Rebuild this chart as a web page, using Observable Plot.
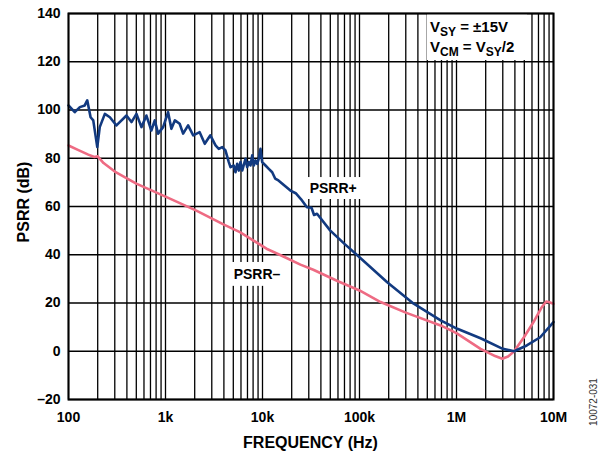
<!DOCTYPE html>
<html>
<head>
<meta charset="utf-8">
<script src="https://cdn.jsdelivr.net/npm/d3@7"></script>
<script src="https://cdn.jsdelivr.net/npm/@observablehq/plot@0.6"></script>
<style>
  html, body { margin: 0; padding: 0; background: #fff; }
  #chart { width: 600px; height: 455px; position: relative; }
</style>
</head>
<body>
<div id="chart"></div>
<script>
// ---------- data ----------
const plusFreq = [100, 116, 131, 147, 156, 169, 180, 198, 210, 237, 267, 312, 396, 446, 502, 565, 636, 715, 775, 839, 945, 1064, 1150, 1250, 1400, 1520, 1710, 1930, 2250, 2540, 2900, 3280, 3544, 3842, 4155, 4494, 4677, 5060, 5268, 5486, 5698, 5933, 6176, 6678, 6956, 7225, 7521, 7831, 8136, 8470, 8819, 9160, 9537, 9929, 10740, 11610, 12590, 13500, 14600, 19400, 22000, 25000, 28700, 32000, 34000, 36500, 50000, 70000, 100000, 193000, 362000, 686000, 1020000, 1770000, 3000000, 3930000, 5300000, 7300000, 10000000];
const plusDb   = [101.9, 99.1, 101.2, 101.9, 104, 97, 95.7, 84.6, 92.9, 98.4, 97, 93.6, 97.7, 95, 98.4, 92.9, 97.7, 91.5, 95.7, 90.2, 92.9, 99.1, 92.2, 95.7, 94.3, 90.2, 93.6, 89.5, 90.8, 86, 89.5, 85.3, 83.9, 84.6, 83.2, 78.4, 76.3, 77, 74.2, 77.7, 74.9, 78.4, 74.9, 79.8, 76.3, 78.4, 77, 81.2, 77, 79.1, 77.7, 79.8, 83.9, 78.4, 77, 75.6, 74.2, 71.6, 70.8, 66.6, 65.5, 63, 59.7, 59.5, 56.5, 57, 50, 44.5, 39, 28.6, 19.7, 12.8, 9.3, 5.4, 1.0, 0, 2.4, 5.8, 12.1];

const minusFreq = [100, 125, 160, 185, 200, 230, 300, 500, 1000, 2080, 4000, 5850, 8000, 11000, 16000, 24600, 33400, 60000, 100000, 165000, 300000, 686000, 1000000, 1770000, 2500000, 2970000, 3400000, 3930000, 5000000, 6200000, 7500000, 8400000, 8900000, 10000000];
const minusDb   = [85.3, 83.5, 81.5, 80.5, 80.8, 78, 74.5, 69.5, 64.1, 58.3, 52.5, 49.4, 46, 42.5, 39.5, 35.9, 33.8, 29, 25.2, 20.4, 16, 10.7, 7.5, 1.0, -2, -3.1, -2.2, 0, 6, 12, 18, 20.6, 20.4, 19.7];

const xTicks = [100, 1e3, 1e4, 1e5, 1e6, 1e7];
const xTickLabels = ["100", "1k", "10k", "100k", "1M", "10M"];
const yTicks = [-20, 0, 20, 40, 60, 80, 100, 120, 140];
const decades = [100, 1e3, 1e4, 1e5, 1e6];
const multipliers = [1, 2, 3, 4, 5, 6, 7, 8, 9];
const gridFreqs = decades.flatMap(d => multipliers.map(m => d * m)).concat([1e7]);

// label boxes (data units) and positions
const seriesLabels = [
  {text: "PSRR+", x: 53600, y: 67.5, x1: 28000, x2: 110000, y1: 62.9, y2: 72},
  {text: "PSRR\u2013", x: 8770, y: 31.8, x1: 4270, x2: 18100, y1: 26.9, y2: 36.8}
];
const condBox = {x1: 502000, x2: 5400000, y1: 120.5, y2: 140};

const plusData = plusFreq.map((f, i) => ({f, db: plusDb[i]}));
const minusData = minusFreq.map((f, i) => ({f, db: minusDb[i]}));
const tickLabelMap = new Map(xTicks.map((t, i) => [t, xTickLabels[i]]));

const BLUE = "#123a80";
const PINK = "#ee6b83";
const FONT = "'Liberation Sans', Arial, sans-serif";

const chart = Plot.plot({
  width: 600,
  height: 455,
  marginLeft: 68,
  marginRight: 47,
  marginTop: 13,
  marginBottom: 56,
  style: {font: "bold 14px " + FONT, color: "#000", background: "#fff"},
  x: {type: "log", domain: [100, 1e7]},
  y: {domain: [-20, 140]},
  marks: [
    Plot.ruleX(gridFreqs, {stroke: "#000", strokeWidth: 1.3}),
    Plot.ruleY(yTicks, {stroke: "#000", strokeWidth: 1.3}),
    Plot.rect([condBox], {x1: "x1", x2: "x2", y1: "y1", y2: "y2", fill: "#fff"}),
    Plot.rect(seriesLabels, {x1: "x1", x2: "x2", y1: "y1", y2: "y2", fill: "#fff"}),
    Plot.line(minusData, {x: "f", y: "db", stroke: PINK, strokeWidth: 2.6}),
    Plot.line(plusData, {x: "f", y: "db", stroke: BLUE, strokeWidth: 2.6}),
    Plot.frame({stroke: "#000", strokeWidth: 2}),
    Plot.text(seriesLabels, {x: "x", y: "y", text: "text", fill: "#000", fontSize: 14, fontWeight: "bold"}),
    Plot.axisX(xTicks, {
      tickSize: 0, tickPadding: 13,
      tickFormat: d => tickLabelMap.get(d),
      label: null, fontSize: 14, fontWeight: "bold"
    }),
    Plot.axisY(yTicks, {
      tickSize: 0, tickPadding: 8,
      tickFormat: d => d < 0 ? "\u2013" + Math.abs(d) : String(d),
      label: null, fontSize: 14, fontWeight: "bold"
    })
  ]
});

document.getElementById("chart").appendChild(chart);

const svg = d3.select(chart);
const xs = chart.scale("x"), ys = chart.scale("y");

// axis titles
svg.append("text")
  .attr("x", (xs.apply(100) + xs.apply(1e7)) / 2).attr("y", 448)
  .attr("text-anchor", "middle").attr("font-family", FONT)
  .attr("font-weight", "bold").attr("font-size", 16).attr("fill", "#000")
  .text("FREQUENCY (Hz)");
svg.append("text")
  .attr("transform", "translate(29,202) rotate(-90)")
  .attr("text-anchor", "middle").attr("font-family", FONT)
  .attr("font-weight", "bold").attr("font-size", 16).attr("fill", "#000")
  .text("PSRR (dB)");

// condition annotation with subscripts
const ax = xs.apply(condBox.x1) + 3;
const lines = [
  [["V", false], ["SY", true], [" = \u00b115V", false]],
  [["V", false], ["CM", true], [" = V", false], ["SY", true], ["/2", false]]
];
const baseY = [ys.apply(140) + 19, ys.apply(140) + 39];
lines.forEach((parts, li) => {
  const t = svg.append("text")
    .attr("x", ax).attr("y", baseY[li])
    .attr("text-anchor", "start")
    .attr("font-family", FONT)
    .attr("font-weight", "bold").attr("font-size", 15).attr("fill", "#000");
  let prevSub = false;
  parts.forEach(([s, sub]) => {
    const ts = t.append("tspan").text(s);
    if (sub) ts.attr("font-size", 12).attr("dy", prevSub ? 0 : 4);
    else ts.attr("dy", prevSub ? -4 : 0);
    prevSub = sub;
  });
});

// figure id caption, rotated
svg.append("text")
  .attr("transform", "translate(597,402) rotate(-90)")
  .attr("text-anchor", "middle")
  .attr("font-family", FONT)
  .attr("font-weight", "normal")
  .attr("font-size", 10).attr("fill", "#333")
  .text("10072-031");
</script>
</body>
</html>
